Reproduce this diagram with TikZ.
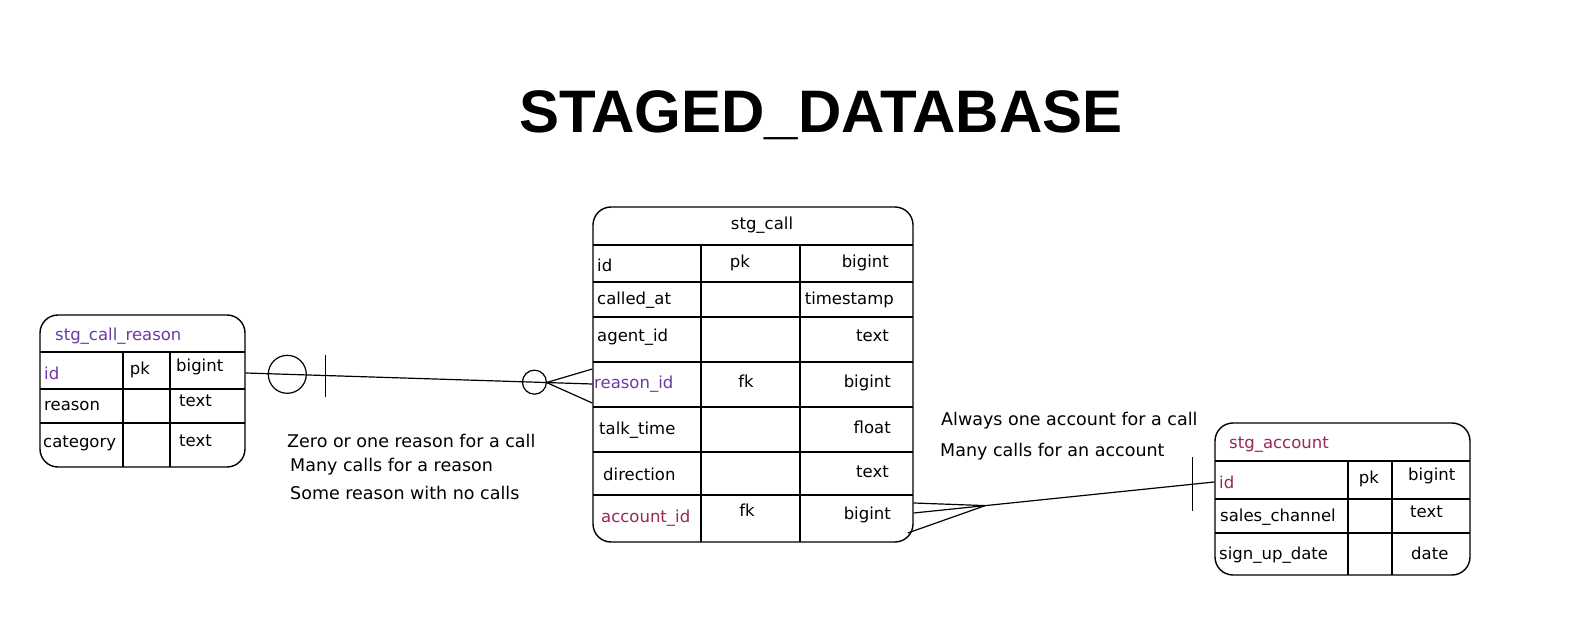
\documentclass[tikz,border=0pt]{standalone}
\usepackage{fontspec}
\setmainfont{DejaVu Sans}
\newfontfamily\titlefont{Liberation Sans}
\usetikzlibrary{calc}
\definecolor{rpurple}{RGB}{112,56,165}
\definecolor{amaroon}{RGB}{150,40,90}
\tikzset{
  tbl/.style={draw, line width=1.4pt, rounded corners=18pt, inner sep=0pt},
  grid/.style={line width=1.2pt},
  cell/.style={inner sep=0pt, font=\fontsize{16.5}{18}\selectfont, anchor=west},
  rcell/.style={inner sep=0pt, font=\fontsize{16.5}{18}\selectfont, anchor=east},
  ccell/.style={inner sep=0pt, font=\fontsize{16.5}{18}\selectfont},
  ttl/.style={inner sep=0pt, font=\fontsize{16.5}{18}\selectfont},
  note/.style={inner sep=0pt, font=\fontsize{17.5}{20}\selectfont, anchor=west},
  conn/.style={line width=1.2pt},
}
\begin{document}
\begin{tikzpicture}[x=1pt,y=-1pt]
\useasboundingbox[fill=white] (0,0) rectangle (1583,617);

% title
\node[inner sep=0pt, anchor=base, font=\titlefont\bfseries\fontsize{60}{64}\selectfont] (title) at (821,133) {STAGED\_DATABASE};

% ---------- stg_call_reason ----------
\node[tbl, minimum width=205pt, minimum height=152pt] (reason) at (142.5,391) {};
\draw[grid] (40,352) -- (245,352);
\draw[grid] (40,389) -- (245,389);
\draw[grid] (40,423) -- (245,423);
\draw[grid] (123,352) -- (123,467);
\draw[grid] (170,352) -- (170,467);
\node[ttl, anchor=west, text=rpurple] (rtitle) at (55,336) {stg\_call\_reason};
\node[cell, text=rpurple] (rid) at (44,373) {id};
\node[ccell] (rpk) at (140,370) {pk};
\node[cell] (rt1) at (176,367) {bigint};
\node[cell] (rreason) at (44,406) {reason};
\node[cell] (rt2) at (179,401) {text};
\node[cell] (rcat) at (43,443) {category};
\node[cell] (rt3) at (179,441) {text};

% ---------- stg_call ----------
\node[tbl, minimum width=320pt, minimum height=335pt] (call) at (753,374.5) {};
\foreach \yy in {245,282,317,362,407,452,495}
  \draw[grid] (593,\yy) -- (913,\yy);
\draw[grid] (701,245) -- (701,542);
\draw[grid] (800,245) -- (800,542);
\node[ttl] (ctitle) at (762,225) {stg\_call};
\node[cell] (cid) at (597,265) {id};
\node[ccell] (cpk) at (740,263) {pk};
\node[rcell] (ct1) at (889,263) {bigint};
\node[cell] (ccalled) at (597,300) {called\_at};
\node[rcell] (ct2) at (894,300) {timestamp};
\node[cell] (cagent) at (597,337) {agent\_id};
\node[rcell] (ct3) at (889,336) {text};
\node[cell, text=rpurple] (crid) at (594,384) {reason\_id};
\node[ccell] (cfk1) at (746,381) {fk};
\node[rcell] (ct4) at (891,383) {bigint};
\node[cell] (ctalk) at (599,430) {talk\_time};
\node[rcell] (ct5) at (891,427) {float};
\node[cell] (cdir) at (603,474) {direction};
\node[rcell] (ct6) at (889,472) {text};
\node[cell, text=amaroon] (caid) at (601,518) {account\_id};
\node[ccell] (cfk2) at (747,510) {fk};
\node[rcell] (ct7) at (891,515) {bigint};

% ---------- stg_account ----------
\node[tbl, minimum width=255pt, minimum height=152pt] (acct) at (1342.5,499) {};
\draw[grid] (1215,461) -- (1470,461);
\draw[grid] (1215,499) -- (1470,499);
\draw[grid] (1215,533) -- (1470,533);
\draw[grid] (1348,461) -- (1348,575);
\draw[grid] (1392,461) -- (1392,575);
\node[ttl, anchor=west, text=amaroon] (atitle) at (1229,445) {stg\_account};
\node[cell, text=amaroon] (aid) at (1219,482) {id};
\node[ccell] (apk) at (1369,479) {pk};
\node[cell] (at1) at (1408,476) {bigint};
\node[cell] (asales) at (1220,517) {sales\_channel};
\node[cell] (at2) at (1410,512) {text};
\node[cell] (asign) at (1219,555) {sign\_up\_date};
\node[cell] (at3) at (1411,553) {date};

% ---------- connector reason -> call ----------
\coordinate (a1) at (reason.east |- rid);
\coordinate (b1) at (call.west |- crid);
\draw[conn] (a1) -- (b1);
\coordinate (o1) at ($(a1)!0.12!(b1)$);
\draw[conn] (o1) circle (19pt);
\coordinate (bar1) at ($(a1)!0.23!(b1)$);
\draw[conn] ($(bar1)+(0,-21)$) -- ($(bar1)+(0,21)$);
\coordinate (o2) at ($(a1)!0.833!(b1)$);
\draw[conn] (o2) circle (12pt);
\coordinate (apex1) at ($(a1)!0.868!(b1)$);
\draw[conn] (apex1) -- ($(b1)+(0,-15)$);
\draw[conn] (apex1) -- ($(b1)+(0,19)$);

% ---------- connector call -> account ----------
\coordinate (a2) at ($(call.east |- caid)+(0,-5)$);
\coordinate (b2) at (acct.west |- aid);
\draw[conn] (a2) -- (b2);
\coordinate (bar2) at ($(a2)!0.927!(b2)$);
\draw[conn] ($(bar2)+(0,-27)$) -- ($(bar2)+(0,27)$);
\coordinate (apex2) at ($(a2)!0.238!(b2)$);
\draw[conn] (apex2) -- ($(a2)+(0,-10)$);
\draw[conn] (apex2) -- ($(a2)+(-6,20)$);

% ---------- notes ----------
\node[note] (n1) at (287,441) {Zero or one reason for a call};
\node[note] (n2) at (290,467) {Many calls for a reason};
\node[note] (n3) at (290,493) {Some reason with no calls};
\node[note] (n4) at (941,421) {Always one account for a call};
\node[note] (n5) at (940,452) {Many calls for an account};
\end{tikzpicture}
\end{document}
